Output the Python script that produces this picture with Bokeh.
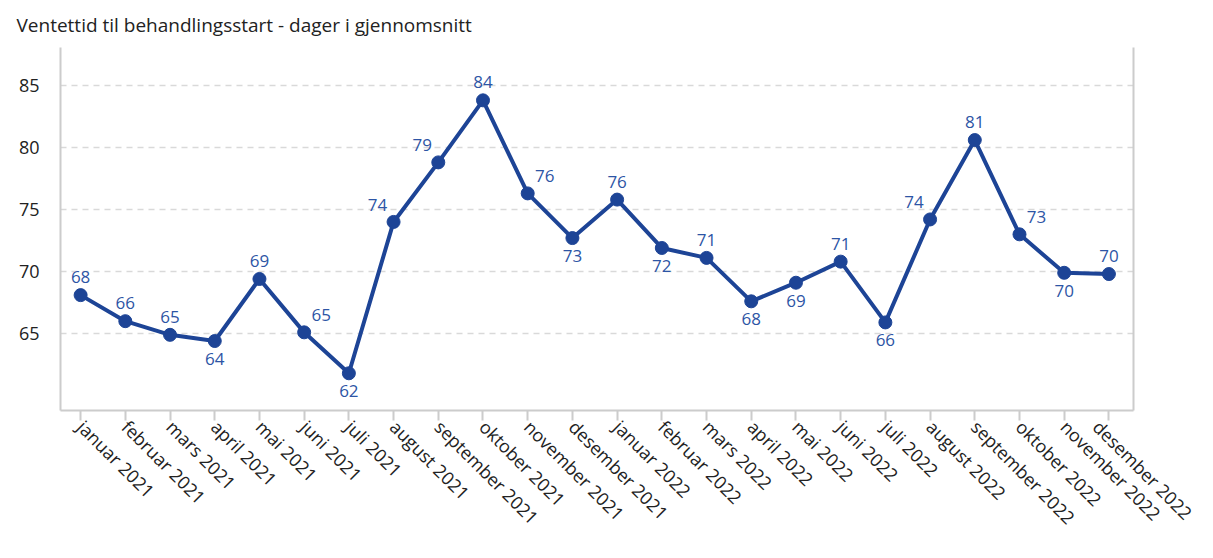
import numpy as np
from bokeh.plotting import figure
from bokeh.models import ColumnDataSource, FixedTicker, LinearAxis, Range1d
from bokeh.core.properties import value
from bokeh.embed import file_html
from bokeh.resources import INLINE

TITLE = "Ventettid til behandlingsstart - dager i gjennomsnitt"

CATEGORIES = [
    "januar 2021", "februar 2021", "mars 2021", "april 2021", "mai 2021", "juni 2021",
    "juli 2021", "august 2021", "september 2021", "oktober 2021", "november 2021", "desember 2021",
    "januar 2022", "februar 2022", "mars 2022", "april 2022", "mai 2022", "juni 2022",
    "juli 2022", "august 2022", "september 2022", "oktober 2022", "november 2022", "desember 2022",
]
VALUES = [68.1, 66.0, 64.9, 64.4, 69.4, 65.1, 61.8, 74.0, 78.8, 83.8, 76.3, 72.7,
          75.8, 71.9, 71.1, 67.6, 69.1, 70.8, 65.9, 74.2, 80.6, 73.0, 69.9, 69.8]
DATA_LABELS = ["68", "66", "65", "64", "69", "65", "62", "74", "79", "84", "76", "73",
               "76", "72", "71", "68", "69", "71", "66", "74", "81", "73", "70", "70"]
Y_TICKS = [65, 70, 75, 80, 85]

# label placement (style)
PLACEMENT = ["a", "a", "a", "b", "a", "ar", "b", "al", "al", "a", "ar", "b",
             "a", "b", "a", "b", "b", "a", "b", "al", "a", "ar", "b", "a"]
DX = {"a": 0, "b": 0, "al": -16, "ar": 17}
DY = {"a": -18, "b": 18, "al": -17, "ar": -17}

LINE_COLOR = "#1d4496"
LABEL_COLOR = "#2d55a5"
FONT = "Open Sans"

xs = list(range(len(CATEGORIES)))
src = ColumnDataSource(dict(
    x=xs, y=VALUES, lab=DATA_LABELS,
    dx=[DX[p] for p in PLACEMENT], dy=[DY[p] for p in PLACEMENT],
))

p = figure(width=1197, height=542, title=TITLE,
           x_range=Range1d(-0.45, 23.55), y_range=Range1d(58.8, 88.06),
           output_backend="svg", toolbar_location=None)
p.outline_line_color = None
p.min_border_left = 60
p.min_border_right = 64
p.min_border_top = 47
p.min_border_bottom = 132

p.title.text_font = FONT
p.title.text_font_size = "19px"
p.title.text_font_style = "normal"
p.title.text_color = "#222222"
p.title.offset = -44
p.title.standoff = 16
p.title.vertical_align = "top"

# x axis
xa = p.xaxis[0]
xa.ticker = FixedTicker(ticks=xs)
xa.major_label_overrides = {i: c for i, c in enumerate(CATEGORIES)}
xa.major_label_orientation = -np.pi / 4
xa.axis_line_color = "#cccccc"
xa.axis_line_width = 2
xa.major_tick_line_color = "#cccccc"
xa.major_tick_line_width = 2
xa.major_tick_in = 0
xa.major_tick_out = 10
xa.minor_tick_line_color = None
xa.major_label_text_font = FONT
xa.major_label_text_font_size = "18px"
xa.major_label_text_color = "#222222"
xa.major_label_text_align = "left"
xa.major_label_text_baseline = "top"
xa.major_label_standoff = 3

# y axis
ya = p.yaxis[0]
ya.ticker = FixedTicker(ticks=Y_TICKS)
ya.axis_line_color = "#cccccc"
ya.axis_line_width = 2
ya.major_tick_line_color = None
ya.minor_tick_line_color = None
ya.major_label_text_font = FONT
ya.major_label_text_font_size = "18px"
ya.major_label_text_color = "#222222"
ya.major_label_standoff = 15

ra = LinearAxis(ticker=FixedTicker(ticks=[]), axis_line_color="#cccccc", axis_line_width=2,
                major_tick_line_color=None, minor_tick_line_color=None,
                major_label_text_font_size="0px")
p.add_layout(ra, "right")

p.xgrid.grid_line_color = None
p.ygrid.ticker = FixedTicker(ticks=Y_TICKS)
p.ygrid.grid_line_color = "#d9d9d9"
p.ygrid.grid_line_dash = "6 5"
p.ygrid.grid_line_width = 1.5

p.line("x", "y", source=src, line_color=LINE_COLOR, line_width=4)
p.scatter("x", "y", source=src, size=13, fill_color=LINE_COLOR, line_color=LINE_COLOR)
p.text("x", "y", text="lab", source=src, x_offset="dx", y_offset="dy",
       text_align="center", text_baseline="middle",
       text_font=value(FONT), text_font_size="17px", text_color=LABEL_COLOR)

open("out.html", "w").write(file_html(p, INLINE))
